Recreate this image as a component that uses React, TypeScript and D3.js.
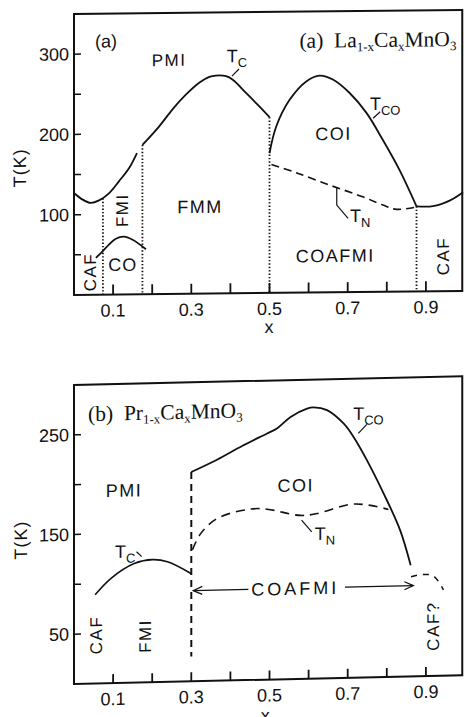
import React from 'react';
import * as d3 from 'd3';

type Pt = [number, number];

// ---------- (a) La1-xCaxMnO3 : x = Ca content, T in K ----------
const aTcLow: Pt[] = [[0, 127], [0.021, 119], [0.043, 114.5], [0.064, 117.5], [0.09, 126.5], [0.115, 141], [0.141, 157.5], [0.161, 176]];
const aTcHigh: Pt[] = [[0.175, 186], [0.218, 209], [0.252, 230], [0.286, 248], [0.321, 263], [0.346, 270], [0.363, 271.5], [0.389, 270.5], [0.406, 266], [0.44, 249.5], [0.474, 232.5], [0.5, 219]];
const aCo: Pt[] = [[0.056, 46], [0.073, 54], [0.09, 62.5], [0.107, 69.5], [0.128, 72], [0.15, 68], [0.167, 62.5], [0.184, 56]];
const aTco: Pt[] = [[0.5, 174], [0.517, 207], [0.551, 240], [0.594, 263], [0.628, 270], [0.662, 265], [0.705, 248], [0.748, 223], [0.79, 189], [0.833, 151], [0.876, 106]];
const aCaf: Pt[] = [[0.876, 106], [0.918, 106], [0.962, 113], [0.995, 123]];
const aTn: Pt[] = [[0.505, 160], [0.568, 149.5], [0.654, 133.5], [0.739, 118.5], [0.79, 108], [0.825, 102.5], [0.876, 105]];
const aBoundX = [0.074, 0.175, 0.5, 0.876];
const aBoundTop = [120, 186, 219, 106];

// ---------- (b) Pr1-xCaxMnO3 ----------
const bTc: Pt[] = [[0.054, 89], [0.094, 105], [0.154, 119.5], [0.201, 123], [0.239, 120.5], [0.3, 108]];
const bTco: Pt[] = [[0.3, 210], [0.367, 222], [0.43, 235], [0.494, 247], [0.52, 252], [0.554, 263], [0.596, 271], [0.613, 272], [0.647, 269], [0.69, 255], [0.715, 241.5], [0.749, 218], [0.792, 184], [0.834, 147], [0.861, 111.5]];
const bTn: Pt[] = [[0.303, 132], [0.324, 148], [0.367, 163], [0.452, 171.5], [0.494, 171], [0.579, 164], [0.622, 165.5], [0.707, 174], [0.758, 172.5], [0.804, 168]];
const bCaf: Pt[] = [[0.862, 100], [0.89, 102], [0.92, 100], [0.945, 86]];
const bBoundX = 0.3;
const bBoundT: Pt = [25, 210];

// ticks
const xTicks = [0.1, 0.2, 0.3, 0.4, 0.5, 0.6, 0.7, 0.8, 0.9];
const xTickLabels = ['0.1', '0.3', '0.5', '0.7', '0.9'];
const aYTicks = [50, 100, 150, 200, 250, 300];
const aYTickLabels = ['100', '200', '300'];
const bYTicks = [50, 100, 150, 200, 250];
const bYTickLabels = ['50', '150', '250'];

const SANS = '"Liberation Sans", Arial, sans-serif';
const SERIF = '"Liberation Serif", "Times New Roman", serif';
const INK = '#111';

const x = d3.scaleLinear().domain([0, 1]).range([74, 465]);
const X_END = 0.993;
const yA = d3.scaleLinear().domain([0, 350]).range([295, 14]);
const yB = d3.scaleLinear().domain([0, 300]).range([684, 385]);

const lineOf = (y: d3.ScaleLinear<number, number>) =>
  d3.line<Pt>().x(d => x(d[0])).y(d => y(d[1])).curve(d3.curveCatmullRom.alpha(0.5));

// the scanned panels are slightly sheared
const skew = (y0: number, deg: number) => `translate(74,${y0}) skewY(${-deg}) translate(-74,${-y0})`;

const Sub: React.FC<{ px: number; py: number; main: string; sub: string; size?: number }> = ({ px, py, main, sub, size = 18 }) => (
  <text x={px} y={py} fontFamily={SANS} fontSize={size} fill={INK}>
    {main}
    <tspan dy={5} fontSize={size * 0.72}>{sub}</tspan>
  </text>
);

const Vert: React.FC<{ px: number; py: number; text: string }> = ({ px, py, text }) => (
  <text x={px} y={py} transform={`rotate(-90,${px},${py})`} textAnchor="middle" dominantBaseline="central"
    fontFamily={SANS} fontSize={17} letterSpacing={1.5} fill={INK}>{text}</text>
);

const Formula: React.FC<{ px: number; py: number; tag: string; el: string; anchor?: string }> = ({ px, py, tag, el, anchor = 'start' }) => (
  <text x={px} y={py} fontFamily={SERIF} fontSize={21.5} fill={INK} textAnchor={anchor}>
    {tag}{'\u00a0\u00a0'}{el}
    <tspan dy={4} fontSize={13}>1-x</tspan>
    <tspan dy={-4}>Ca</tspan>
    <tspan dy={4} fontSize={13}>x</tspan>
    <tspan dy={-4}>MnO</tspan>
    <tspan dy={4} fontSize={13}>3</tspan>
  </text>
);

const Frame: React.FC<{ y: d3.ScaleLinear<number, number>; yTicks: number[]; yLabels: string[]; tickLen: number }> = ({ y, yTicks, yLabels, tickLen }) => {
  const [t0, t1] = y.domain();
  return (
    <g>
      <rect x={x(0)} y={y(t1)} width={x(X_END) - x(0)} height={y(t0) - y(t1)} fill="none" stroke={INK} strokeWidth={2} />
      {xTicks.map(v => (
        <line key={'xt' + v} x1={x(v)} x2={x(v)} y1={y(0)} y2={y(0) - tickLen} stroke={INK} strokeWidth={1.8} />
      ))}
      {xTickLabels.map(s => (
        <text key={'xl' + s} x={x(+s)} y={y(0) + 22} textAnchor="middle" fontFamily={SANS} fontSize={18} fill={INK}>{s}</text>
      ))}
      {yTicks.map(v => (
        <line key={'yt' + v} x1={x(0)} x2={x(0) + 7} y1={y(v)} y2={y(v)} stroke={INK} strokeWidth={1.5} />
      ))}
      {yLabels.map(s => (
        <text key={'yl' + s} x={69} y={y(+s)} dy="0.35em" textAnchor="end" fontFamily={SANS} fontSize={18} fill={INK}>{s}</text>
      ))}
    </g>
  );
};

const arrowHead = (px: number, py: number, dir: number) =>
  `M${px + dir * 9},${py - 4}L${px},${py}L${px + dir * 9},${py + 4}`;

const App: React.FC = () => {
  const la = lineOf(yA);
  const lb = lineOf(yB);
  const arrowT = 91;

  return (
    <svg width={464} height={717} viewBox="0 0 464 717" style={{ position: 'absolute', left: 0, top: 0, background: '#fff' }}>
      <rect width={464} height={717} fill="#fff" />

      {/* ---------------- panel (a) ---------------- */}
      <g transform={skew(295, 0.6)}>
        <Frame y={yA} yTicks={aYTicks} yLabels={aYTickLabels} tickLen={10} />
        <text x={20} y={yA(159)} transform={`rotate(-90,20,${yA(159)})`} textAnchor="middle" dominantBaseline="central"
          fontFamily={SANS} fontSize={18} letterSpacing={1} fill={INK}>T(K)</text>
        <text x={x(0.499)} y={yA(0) + 40} textAnchor="middle" fontFamily={SANS} fontSize={18} fill={INK}>x</text>

        <path d={la(aTcLow) || ''} fill="none" stroke={INK} strokeWidth={1.8} />
        <path d={la(aTcHigh) || ''} fill="none" stroke={INK} strokeWidth={1.8} />
        <path d={la(aCo) || ''} fill="none" stroke={INK} strokeWidth={1.8} />
        <path d={la(aTco) || ''} fill="none" stroke={INK} strokeWidth={1.8} />
        <path d={la(aCaf) || ''} fill="none" stroke={INK} strokeWidth={1.8} />
        <path d={la(aTn) || ''} fill="none" stroke={INK} strokeWidth={1.6} strokeDasharray="8,5" />
        {aBoundX.map((bx, i) => (
          <line key={'ab' + i} x1={x(bx)} x2={x(bx)} y1={yA(aBoundTop[i])} y2={yA(0)} stroke={INK} strokeWidth={1.8} strokeDasharray="1.4,2" />
        ))}

        <text x={x(0.082)} y={yA(308)} textAnchor="middle" fontFamily={SANS} fontSize={18} fill={INK}>(a)</text>
        <Formula px={x(0.978)} py={yA(305)} tag="(a)" el="La" anchor="end" />
        <text x={x(0.243)} y={yA(284)} textAnchor="middle" fontFamily={SANS} fontSize={17} letterSpacing={1.5} fill={INK}>PMI</text>
        <Sub px={x(0.391)} py={yA(288)} main="T" sub="C" />
        <line x1={x(0.404)} y1={yA(270.6)} x2={x(0.422)} y2={yA(279.3)} stroke={INK} strokeWidth={1.2} />
        <Sub px={x(0.757)} py={yA(226.5)} main="T" sub="CO" />
        <line x1={x(0.765)} y1={yA(216.2)} x2={x(0.783)} y2={yA(224.3)} stroke={INK} strokeWidth={1.2} />
        <text x={x(0.664)} y={yA(189.7)} textAnchor="middle" fontFamily={SANS} fontSize={18} letterSpacing={1.5} fill={INK}>COI</text>
        <text x={x(0.322)} y={yA(100.5)} textAnchor="middle" fontFamily={SANS} fontSize={18} letterSpacing={1.5} fill={INK}>FMM</text>
        <text x={x(0.668)} y={yA(37.7)} textAnchor="middle" fontFamily={SANS} fontSize={18} letterSpacing={1.5} fill={INK}>COAFMI</text>
        <text x={x(0.125)} y={yA(29.3)} textAnchor="middle" fontFamily={SANS} fontSize={18} letterSpacing={1} fill={INK}>CO</text>
        <Vert px={x(0.125)} py={yA(105)} text="FMI" />
        <Vert px={x(0.041)} py={yA(28.4)} text="CAF" />
        <Vert px={x(0.944)} py={yA(43.7)} text="CAF" />
        <Sub px={x(0.706)} py={yA(87.3)} main="T" sub="N" />
        <path d={`M${x(0.672)},${yA(130)}L${x(0.672)},${yA(108.6)}L${x(0.701)},${yA(91.9)}`} fill="none" stroke={INK} strokeWidth={1.2} />
      </g>

      {/* ---------------- panel (b) ---------------- */}
      <g transform={skew(684, 1.3)}>
        <Frame y={yB} yTicks={bYTicks} yLabels={bYTickLabels} tickLen={9} />
        <text x={21} y={yB(145.6)} transform={`rotate(-90,21,${yB(145.6)})`} textAnchor="middle" dominantBaseline="central"
          fontFamily={SANS} fontSize={18} letterSpacing={1} fill={INK}>T(K)</text>
        <text x={x(0.489)} y={yB(0) + 42} textAnchor="middle" fontFamily={SANS} fontSize={18} fill={INK}>x</text>

        <path d={lb(bTc) || ''} fill="none" stroke={INK} strokeWidth={1.6} />
        <path d={lb(bTco) || ''} fill="none" stroke={INK} strokeWidth={1.8} />
        <path d={lb(bTn) || ''} fill="none" stroke={INK} strokeWidth={1.6} strokeDasharray="9,6" />
        <path d={lb(bCaf) || ''} fill="none" stroke={INK} strokeWidth={1.5} strokeDasharray="6,6" />
        <line x1={x(bBoundX)} x2={x(bBoundX)} y1={yB(bBoundT[1])} y2={yB(bBoundT[0])} stroke={INK} strokeWidth={2} strokeDasharray="7,5" />

        <Formula px={x(0.036)} py={yB(263.5)} tag="(b)" el="Pr" />
        <text x={x(0.128)} y={yB(186.8)} textAnchor="middle" fontFamily={SANS} fontSize={18} letterSpacing={1.5} fill={INK}>PMI</text>
        <text x={x(0.567)} y={yB(187.9)} textAnchor="middle" fontFamily={SANS} fontSize={18} letterSpacing={1.5} fill={INK}>COI</text>
        <Sub px={x(0.714)} py={yB(258.5)} main="T" sub="CO" />
        <line x1={x(0.727)} y1={yB(245)} x2={x(0.749)} y2={yB(253.9)} stroke={INK} strokeWidth={1.2} />
        <Sub px={x(0.616)} py={yB(139)} main="T" sub="N" />
        <line x1={x(0.582)} y1={yB(159.3)} x2={x(0.608)} y2={yB(147.3)} stroke={INK} strokeWidth={1.2} />
        <Sub px={x(0.105)} py={yB(125.4)} main="T" sub="C" />
        <line x1={x(0.16)} y1={yB(131.3)} x2={x(0.173)} y2={yB(126.2)} stroke={INK} strokeWidth={1.2} />
        <Vert px={x(0.058)} py={yB(48.6)} text="CAF" />
        <Vert px={x(0.182)} py={yB(46.5)} text="FMI" />
        <Vert px={x(0.919)} py={yB(50)} text="CAF?" />

        <line x1={x(0.305)} x2={x(0.446)} y1={yB(arrowT)} y2={yB(arrowT)} stroke={INK} strokeWidth={1.2} />
        <line x1={x(0.693)} x2={x(0.868)} y1={yB(arrowT)} y2={yB(arrowT)} stroke={INK} strokeWidth={1.2} />
        <path d={arrowHead(x(0.305), yB(arrowT), 1)} fill="none" stroke={INK} strokeWidth={1.2} />
        <path d={arrowHead(x(0.868), yB(arrowT), -1)} fill="none" stroke={INK} strokeWidth={1.2} />
        <text x={x(0.566)} y={yB(arrowT)} dy="0.36em" textAnchor="middle" fontFamily={SANS} fontSize={18} letterSpacing={3} fill={INK}>COAFMI</text>
      </g>
    </svg>
  );
};

export default App;
